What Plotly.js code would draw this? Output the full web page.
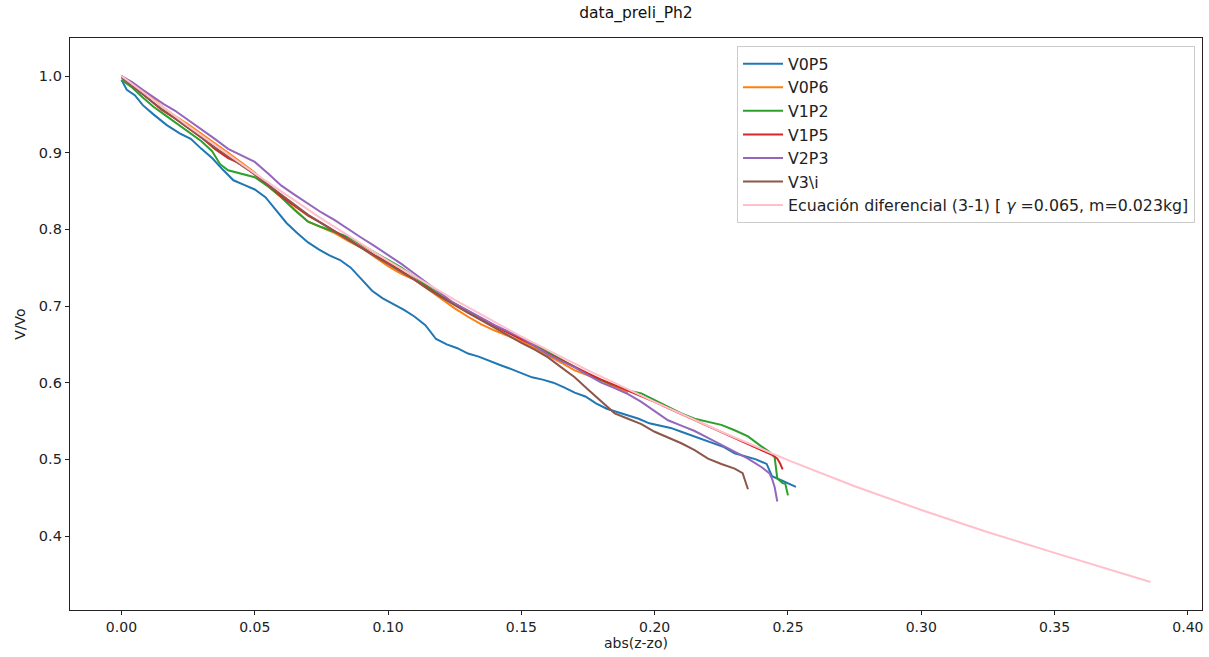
<!DOCTYPE html>
<html>
<head>
<meta charset="utf-8">
<script src="https://cdn.plot.ly/plotly-3.0.1.min.js"></script>
<style>html,body{margin:0;padding:0;background:#fff;}#chart{width:1209px;height:657px;}</style>
</head>
<body>
<div id="chart"></div>
<script>
// ---- data ----
const v0p5_x = [0.000,0.002,0.005,0.008,0.012,0.017,0.022,0.026,0.030,0.034,0.038,0.042,0.046,0.050,0.054,0.058,0.062,0.066,0.070,0.074,0.078,0.082,0.086,0.090,0.094,0.098,0.102,0.106,0.110,0.114,0.118,0.122,0.126,0.130,0.134,0.138,0.142,0.146,0.150,0.154,0.158,0.162,0.166,0.170,0.174,0.178,0.182,0.186,0.190,0.194,0.198,0.202,0.206,0.210,0.214,0.218,0.222,0.226,0.230,0.234,0.238,0.242,0.244,0.246,0.249,0.251,0.253];
const v0p5_y = [0.995,0.982,0.975,0.962,0.950,0.936,0.925,0.918,0.905,0.893,0.878,0.864,0.858,0.852,0.842,0.825,0.808,0.795,0.783,0.774,0.766,0.760,0.750,0.735,0.720,0.710,0.703,0.695,0.686,0.675,0.657,0.650,0.645,0.638,0.634,0.628,0.623,0.618,0.613,0.607,0.604,0.600,0.594,0.587,0.582,0.573,0.566,0.562,0.557,0.553,0.547,0.544,0.541,0.536,0.531,0.527,0.522,0.516,0.508,0.504,0.500,0.494,0.478,0.475,0.470,0.467,0.464];

const v0p6_x = [0.000,0.004,0.008,0.012,0.016,0.020,0.025,0.030,0.035,0.040,0.045,0.050,0.055,0.060,0.065,0.070,0.075,0.080,0.085,0.090,0.095,0.100,0.105,0.110,0.115,0.120,0.125,0.130,0.135,0.140,0.145,0.150,0.155,0.160,0.165,0.170,0.175,0.180,0.185,0.190];
const v0p6_y = [1.000,0.990,0.980,0.970,0.958,0.948,0.937,0.925,0.912,0.900,0.887,0.874,0.857,0.842,0.826,0.810,0.802,0.795,0.785,0.776,0.764,0.752,0.742,0.734,0.722,0.709,0.697,0.686,0.676,0.668,0.661,0.654,0.645,0.636,0.626,0.616,0.610,0.603,0.594,0.587];

const v1p2_x = [0.000,0.004,0.008,0.012,0.016,0.020,0.025,0.030,0.034,0.037,0.040,0.045,0.050,0.055,0.060,0.065,0.070,0.075,0.080,0.085,0.090,0.095,0.100,0.105,0.110,0.115,0.120,0.125,0.130,0.135,0.140,0.145,0.150,0.155,0.160,0.165,0.170,0.175,0.180,0.185,0.190,0.195,0.200,0.205,0.210,0.215,0.220,0.225,0.230,0.235,0.240,0.243,0.245,0.246,0.248,0.249,0.250];
const v1p2_y = [0.995,0.985,0.972,0.960,0.950,0.940,0.928,0.915,0.902,0.885,0.877,0.873,0.868,0.856,0.842,0.825,0.810,0.803,0.797,0.790,0.780,0.770,0.760,0.750,0.738,0.725,0.713,0.703,0.693,0.683,0.674,0.666,0.658,0.650,0.640,0.630,0.620,0.611,0.603,0.596,0.590,0.586,0.577,0.568,0.560,0.553,0.549,0.545,0.538,0.530,0.517,0.510,0.503,0.475,0.469,0.468,0.453];

const v1p5_x = [0.000,0.005,0.010,0.015,0.020,0.025,0.030,0.035,0.040,0.045,0.050,0.055,0.060,0.065,0.070,0.075,0.080,0.085,0.090,0.095,0.100,0.105,0.110,0.115,0.120,0.125,0.130,0.135,0.140,0.145,0.150,0.155,0.160,0.165,0.170,0.175,0.180,0.185,0.190,0.195,0.200,0.205,0.210,0.215,0.220,0.225,0.230,0.235,0.240,0.244,0.246,0.247,0.248];
const v1p5_y = [1.000,0.985,0.970,0.956,0.945,0.933,0.920,0.905,0.893,0.885,0.872,0.858,0.843,0.830,0.818,0.808,0.797,0.787,0.777,0.766,0.757,0.746,0.734,0.723,0.712,0.703,0.693,0.683,0.674,0.665,0.657,0.648,0.638,0.629,0.620,0.612,0.604,0.597,0.590,0.583,0.575,0.567,0.559,0.551,0.544,0.535,0.528,0.520,0.512,0.506,0.501,0.495,0.487];

const v2p3_x = [0.000,0.004,0.008,0.012,0.016,0.020,0.025,0.030,0.035,0.040,0.045,0.050,0.055,0.060,0.065,0.070,0.075,0.080,0.085,0.090,0.095,0.100,0.105,0.110,0.115,0.120,0.125,0.130,0.135,0.140,0.145,0.150,0.155,0.160,0.165,0.170,0.175,0.180,0.185,0.190,0.195,0.200,0.205,0.210,0.215,0.220,0.225,0.230,0.235,0.240,0.243,0.244,0.245,0.246];
const v2p3_y = [1.000,0.992,0.982,0.972,0.963,0.955,0.943,0.930,0.918,0.905,0.897,0.888,0.873,0.857,0.845,0.833,0.822,0.812,0.800,0.789,0.778,0.767,0.755,0.742,0.729,0.715,0.703,0.694,0.684,0.675,0.667,0.659,0.648,0.637,0.628,0.620,0.610,0.600,0.593,0.585,0.575,0.563,0.551,0.544,0.537,0.528,0.519,0.511,0.501,0.490,0.482,0.475,0.464,0.445];

const v3i_x = [0.000,0.005,0.010,0.015,0.020,0.025,0.030,0.035,0.040,0.045,0.050,0.055,0.060,0.065,0.070,0.075,0.080,0.085,0.090,0.095,0.100,0.105,0.110,0.115,0.120,0.125,0.130,0.135,0.140,0.145,0.150,0.155,0.160,0.165,0.170,0.175,0.180,0.185,0.190,0.195,0.200,0.205,0.210,0.215,0.220,0.225,0.230,0.233,0.234,0.235];
const v3i_y = [0.998,0.984,0.970,0.957,0.945,0.932,0.920,0.907,0.895,0.884,0.872,0.858,0.845,0.831,0.819,0.808,0.797,0.787,0.776,0.765,0.755,0.745,0.734,0.722,0.711,0.701,0.691,0.681,0.671,0.662,0.652,0.643,0.633,0.620,0.607,0.591,0.576,0.560,0.553,0.546,0.536,0.529,0.521,0.512,0.501,0.494,0.488,0.482,0.470,0.461];

const model_x = [0.000,0.025,0.050,0.075,0.100,0.125,0.150,0.175,0.200,0.225,0.250,0.275,0.300,0.325,0.350,0.375,0.386];
const model_y = [1.000,0.935,0.873,0.814,0.759,0.708,0.660,0.616,0.575,0.536,0.499,0.465,0.434,0.405,0.378,0.352,0.340];

const seriesNames = ["V0P5","V0P6","V1P2","V1P5","V2P3","V3\\i","Ecuación diferencial (3-1) [ <i>γ</i> =0.065, m=0.023kg]"];
const seriesColors = ["#1f77b4","#ff7f0e","#2ca02c","#d62728","#9467bd","#8c564b","#ffc0cb"];
const xTickVals = [0.00,0.05,0.10,0.15,0.20,0.25,0.30,0.35,0.40];
const yTickVals = [0.4,0.5,0.6,0.7,0.8,0.9,1.0];

const xs = [v0p5_x,v0p6_x,v1p2_x,v1p5_x,v2p3_x,v3i_x,model_x];
const ys = [v0p5_y,v0p6_y,v1p2_y,v1p5_y,v2p3_y,v3i_y,model_y];

const traces = xs.map((x,i)=>({
  x: x, y: ys[i], type:'scatter', mode:'lines', name: seriesNames[i],
  legendgroup: 'g'+i,
  line:{color: seriesColors[i], width:2}
}));

const FONT = "DejaVu Sans, sans-serif";
const layout = {
  width:1209, height:657,
  paper_bgcolor:'#fff', plot_bgcolor:'#fff',
  margin:{l:70, r:7, t:38, b:47},
  font:{family:FONT, size:14, color:'#222'},
  title:{text:'data_preli_Ph2', font:{family:FONT, size:15.5, color:'#111'}, x:0.5, xanchor:'center', xref:'paper', y:1-13/657, yref:'container', yanchor:'middle'},
  xaxis:{
    range:[-0.0193,0.4053], tickvals:xTickVals, tickformat:'.2f',
    showline:true, mirror:true, linecolor:'#222', linewidth:1.2,
    ticks:'outside', ticklen:4, tickcolor:'#222', showgrid:false, zeroline:false,
    title:{text:'abs(z-zo)', font:{family:FONT, size:14, color:'#222'}, standoff:4},
    tickfont:{family:FONT, size:14, color:'#222'}
  },
  yaxis:{
    range:[0.3035,1.0496], tickvals:yTickVals, tickformat:'.1f',
    showline:true, mirror:true, linecolor:'#222', linewidth:1.2,
    ticks:'outside', ticklen:4, tickcolor:'#222', showgrid:false, zeroline:false,
    title:{text:'V/Vo', font:{family:FONT, size:14, color:'#222'}, standoff:10},
    tickfont:{family:FONT, size:14.5, color:'#222'}
  },
  showlegend:true,
  legend:{
    x:(737-70)/1132, y:1-(46-38)/572, xanchor:'left', yanchor:'top',
    bgcolor:'rgba(255,255,255,0.8)', bordercolor:'#cccccc', borderwidth:1,
    font:{family:FONT, size:15.8, color:'#222'}, tracegroupgap:0, itemwidth:40
  }
};

Plotly.newPlot('chart', traces, layout, {displayModeBar:false, staticPlot:true});
</script>
</body>
</html>
